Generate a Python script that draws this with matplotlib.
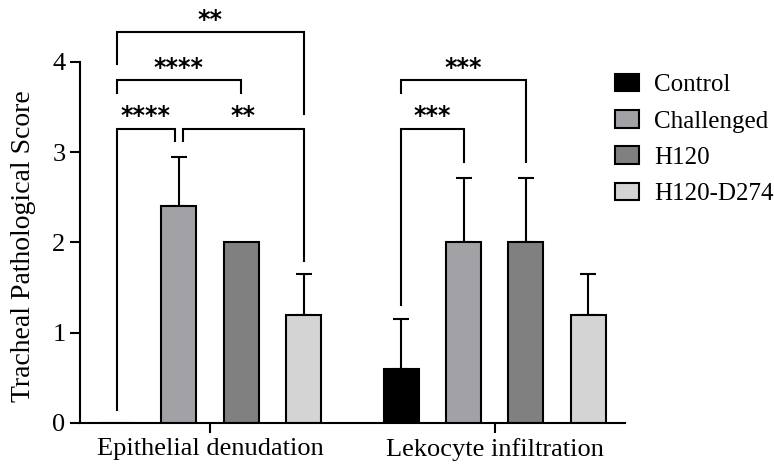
import matplotlib.pyplot as plt
from matplotlib.patches import Patch
import numpy as np

plt.rcParams['font.family'] = ['Liberation Serif', 'DejaVu Serif']

groups = ['Epithelial denudation', 'Lekocyte infiltration']
treatments = ['Control', 'Challenged', 'H120', 'H120-D274']
colors = ['#000000', '#a2a2a6', '#808080', '#d4d4d4']

epithelial_mean = [0.0, 2.4, 2.0, 1.2]
epithelial_sd = [0.0, 0.55, 0.0, 0.45]
lekocyte_mean = [0.6, 2.0, 2.0, 1.2]
lekocyte_sd = [0.55, 0.71, 0.71, 0.45]

# significance brackets: (group, bar a, bar b, bracket y, leg end a, leg end b, label)
brackets = [
    (0, 0, 1, 3.26, 0.14, 3.12, '****'),
    (0, 1, 3, 3.26, 3.12, 1.80, '**'),
    (0, 0, 2, 3.80, 3.66, 3.66, '****'),
    (0, 0, 3, 4.33, 3.98, 3.42, '**'),
    (1, 0, 1, 3.26, 1.31, 2.89, '***'),
    (1, 0, 2, 3.80, 3.66, 2.89, '***'),
]

group_x = np.array([0.0, 4.57])
width = 0.56
lw = 1.5

fig = plt.figure(figsize=(7.74, 4.66), dpi=100)
ax = fig.add_axes([0.1034, 0.0923, 0.7041, 0.7747])

means = [epithelial_mean, lekocyte_mean]
sds = [epithelial_sd, lekocyte_sd]
for g in range(2):
    xs = group_x[g] + np.arange(4) - 1.5
    for i in range(4):
        ax.bar(xs[i], means[g][i], width, color=colors[i], edgecolor='black',
               linewidth=lw, zorder=2)
        if sds[g][i] > 0:
            ax.errorbar(xs[i], means[g][i], yerr=[[0], [sds[g][i]]], fmt='none',
                        ecolor='black', elinewidth=lw, capsize=6, capthick=lw, zorder=1)

for g, a, b, y, ya, yb, lab in brackets:
    xa = group_x[g] + a - 1.5
    xb = group_x[g] + b - 1.5
    # shift legs slightly when two brackets share a bar
    if g == 0 and a == 0 and b == 1:
        xb -= 0.065
    if g == 0 and a == 1:
        xa += 0.065
    ax.plot([xa, xa, xb, xb], [ya, y, y, yb], color='black', lw=lw,
            clip_on=False, solid_joinstyle='miter')
    ax.text((xa + xb) / 2, y + 0.06, lab, ha='center', va='baseline',
            fontsize=17, fontweight='bold', family='DejaVu Sans', clip_on=False)

ax.set_xlim(-2.087, 6.66)
ax.set_ylim(0, 4)
ax.set_xticks(group_x)
ax.set_xticklabels(groups, fontsize=19)
ax.set_yticks([0, 1, 2, 3, 4])
ax.tick_params(axis='both', width=lw, length=7, labelsize=19, direction='out')
ax.set_ylabel('Tracheal Pathological Score', fontsize=20)
ax.yaxis.set_label_coords(-0.08, 0.49)
for s in ['top', 'right']:
    ax.spines[s].set_visible(False)
for s in ['left', 'bottom']:
    ax.spines[s].set_linewidth(lw)

handles = [Patch(facecolor=c, edgecolor='black', linewidth=lw) for c in colors]
fig.legend(handles, treatments, loc='upper left', bbox_to_anchor=(0.766, 0.89),
           frameon=False, fontsize=18, handlelength=0.96, handleheight=0.7,
           labelspacing=0.55, handletextpad=0.6)

fig.savefig('out.png', dpi=100)
